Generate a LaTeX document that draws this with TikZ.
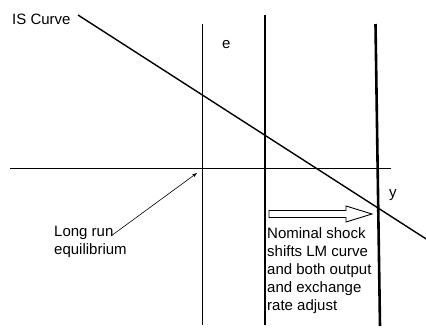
\documentclass[tikz,border=0pt]{standalone}
\usepackage{fontspec}
\setmainfont{Liberation Sans}
\usetikzlibrary{arrows.meta}
\begin{document}
\begin{tikzpicture}[x=1bp,y=-1bp,
  lbl/.style={inner sep=0pt,font=\fontsize{15bp}{18bp}\selectfont},
  thinline/.style={line width=0.9bp},
  midline/.style={line width=1.7bp},
  thickline/.style={line width=2.6bp},
  curve/.style={line width=1.4bp}]
\useasboundingbox (0,0) rectangle (426,329);
% axes and curves
\coordinate (hL) at (10,168);
\coordinate (hR) at (391,168);
\draw[thinline] (hL) -- (hR);
\coordinate (v1t) at (202,24);
\coordinate (v1b) at (202,325);
\draw[thinline] (v1t) -- (v1b);
\coordinate (v2t) at (265,15);
\coordinate (v2b) at (265,325);
\draw[midline] (v2t) -- (v2b);
\coordinate (v3t) at (375.5,24);
\coordinate (v3b) at (380,326);
\draw[thickline] (v3t) -- (v3b);
\coordinate (isA) at (78,15);
\coordinate (isB) at (427,239.5);
\draw[curve] (isA) -- (isB);
% labels
\node[lbl,anchor=base west] (is) at (12,24) {IS Curve};
\node[lbl,anchor=base west] (e) at (222,48) {e};
\node[lbl,anchor=base west] (y) at (389,197) {y};
\node[lbl,anchor=base west,align=left] (lr) at (54,254) {Long run\\equilibrium};
\node[lbl,anchor=north west,align=left] (ns) at (267,227.5) {Nominal shock\\shifts LM curve\\and both output\\and exchange\\rate adjust};
% arrows
\coordinate (lrTail) at (111,236);
\coordinate (eq) at (197,173);
\draw[line width=0.6bp,-{Stealth[length=5bp,width=3.5bp]}] (lrTail) -- (eq);
\draw[line width=0.9bp] (269,210.5) -- (346,210.5) -- (346,206) -- (372,214) -- (346,222) -- (346,217.5) -- (269,217.5) -- cycle;
\end{tikzpicture}
\end{document}
